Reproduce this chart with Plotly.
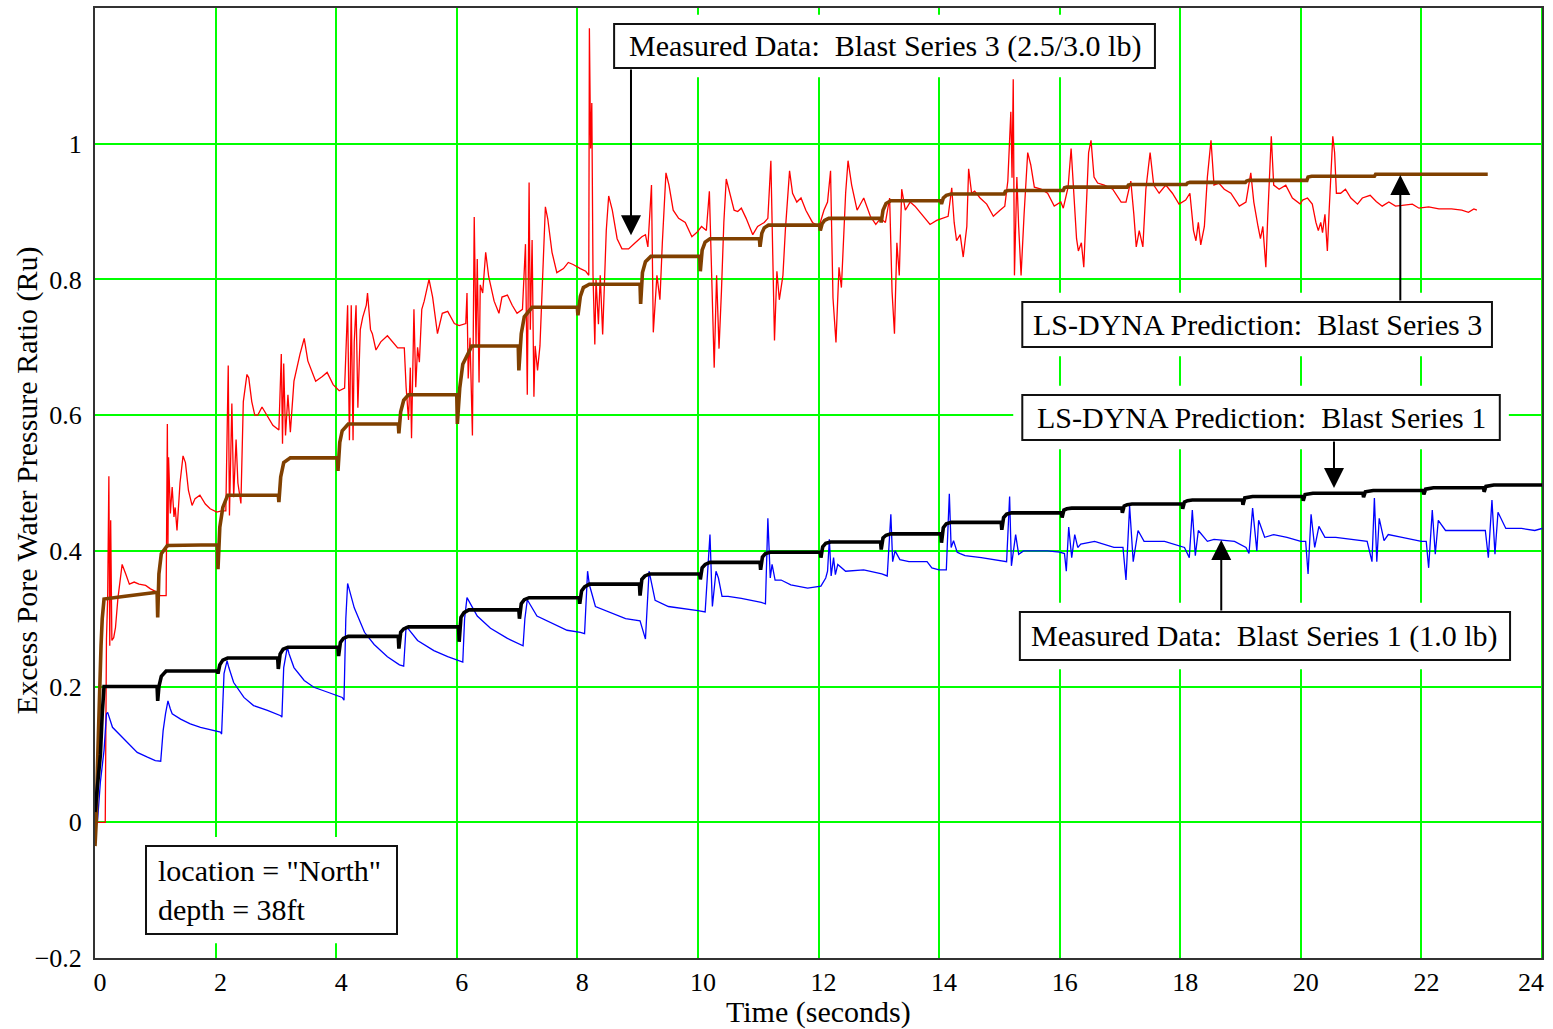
import plotly.graph_objects as go

FONT = "Liberation Serif, Times New Roman, serif"

# ---- time histories: (time s, excess pore water pressure ratio Ru) ----
measured_bs3 = [
    (0.00, 0.000), (0.17, 0.000), (0.19, 0.270), (0.21, 0.330), (0.23, 0.510), (0.245, 0.260),
    (0.26, 0.445), (0.28, 0.268), (0.31, 0.272), (0.34, 0.287), (0.38, 0.330), (0.41, 0.350),
    (0.45, 0.380), (0.51, 0.366), (0.57, 0.351), (0.65, 0.354), (0.73, 0.351), (0.84, 0.349),
    (0.92, 0.344), (1.03, 0.339), (1.08, 0.334), (1.18, 0.334),
    (1.20, 0.587), (1.21, 0.405), (1.22, 0.538), (1.25, 0.455), (1.28, 0.494), (1.31, 0.450),
    (1.33, 0.464), (1.36, 0.430), (1.41, 0.500), (1.46, 0.540), (1.50, 0.530), (1.55, 0.489),
    (1.61, 0.467), (1.66, 0.477), (1.74, 0.482), (1.83, 0.469), (1.91, 0.462), (2.02, 0.457),
    (2.10, 0.459), (2.17, 0.459),
    (2.21, 0.673), (2.23, 0.452), (2.27, 0.617), (2.30, 0.479), (2.34, 0.564), (2.37, 0.500),
    (2.42, 0.470), (2.46, 0.620), (2.52, 0.660), (2.55, 0.655), (2.60, 0.620), (2.65, 0.600),
    (2.70, 0.600), (2.77, 0.612), (2.85, 0.600), (2.95, 0.585), (3.05, 0.578),
    (3.09, 0.690), (3.11, 0.558), (3.13, 0.676), (3.16, 0.570), (3.20, 0.630), (3.24, 0.575),
    (3.30, 0.650), (3.40, 0.690), (3.47, 0.713), (3.53, 0.680), (3.60, 0.663), (3.66, 0.650),
    (3.77, 0.657), (3.85, 0.663), (3.95, 0.645), (4.05, 0.636), (4.14, 0.640),
    (4.19, 0.762), (4.22, 0.563), (4.25, 0.762), (4.28, 0.563), (4.30, 0.708), (4.33, 0.762),
    (4.36, 0.611), (4.40, 0.726), (4.44, 0.744), (4.50, 0.762), (4.52, 0.780), (4.57, 0.726),
    (4.60, 0.720), (4.66, 0.696), (4.74, 0.708), (4.85, 0.717), (4.94, 0.708), (5.02, 0.699),
    (5.13, 0.699),
    (5.16, 0.641), (5.20, 0.593), (5.23, 0.670), (5.25, 0.566), (5.29, 0.756), (5.32, 0.641),
    (5.35, 0.700), (5.38, 0.678), (5.42, 0.756), (5.46, 0.768), (5.54, 0.800), (5.60, 0.774),
    (5.68, 0.720), (5.76, 0.750), (5.85, 0.753), (5.96, 0.735), (6.04, 0.732),
    (6.15, 0.735), (6.17, 0.780), (6.19, 0.654), (6.22, 0.714), (6.26, 0.570), (6.29, 0.892),
    (6.32, 0.702), (6.34, 0.830), (6.37, 0.648), (6.39, 0.792), (6.43, 0.780), (6.48, 0.840),
    (6.53, 0.804), (6.62, 0.768), (6.70, 0.750), (6.75, 0.774), (6.84, 0.777), (6.92, 0.762),
    (7.00, 0.750),
    (7.09, 0.756), (7.14, 0.852), (7.17, 0.630), (7.20, 0.943), (7.22, 0.726), (7.25, 0.858),
    (7.28, 0.627), (7.30, 0.702), (7.34, 0.666), (7.38, 0.702), (7.42, 0.786), (7.47, 0.907),
    (7.51, 0.889), (7.58, 0.840), (7.66, 0.810), (7.77, 0.816), (7.85, 0.825), (7.93, 0.822),
    (8.05, 0.816),
    (8.14, 0.812), (8.19, 0.806), (8.20, 1.170), (8.22, 0.993), (8.24, 1.060), (8.26, 0.806),
    (8.29, 0.704), (8.31, 0.800), (8.35, 0.734), (8.38, 0.806), (8.42, 0.719), (8.48, 0.872),
    (8.52, 0.923), (8.58, 0.902), (8.66, 0.860), (8.74, 0.845), (8.85, 0.845), (8.96, 0.854),
    (9.07, 0.863), (9.13, 0.866),
    (9.17, 0.848), (9.23, 0.939), (9.26, 0.722), (9.32, 0.806), (9.37, 0.770), (9.41, 0.854),
    (9.47, 0.957), (9.52, 0.939), (9.59, 0.902), (9.68, 0.890), (9.79, 0.884), (9.90, 0.863),
    (9.98, 0.869), (10.06, 0.878),
    (10.14, 0.872), (10.19, 0.930), (10.23, 0.806), (10.27, 0.670), (10.31, 0.806), (10.35, 0.698),
    (10.39, 0.782), (10.43, 0.884), (10.47, 0.948), (10.53, 0.927), (10.60, 0.902), (10.66, 0.900),
    (10.72, 0.905), (10.80, 0.890), (10.91, 0.866), (10.99, 0.878), (11.10, 0.884),
    (11.16, 0.890), (11.21, 0.975), (11.27, 0.710), (11.31, 0.812), (11.35, 0.770), (11.41, 0.806),
    (11.45, 0.872), (11.52, 0.960), (11.57, 0.927), (11.64, 0.914), (11.71, 0.920), (11.79, 0.902),
    (11.90, 0.884), (12.01, 0.878),
    (12.09, 0.902), (12.15, 0.914), (12.20, 0.960), (12.24, 0.773), (12.29, 0.707), (12.34, 0.818),
    (12.38, 0.788), (12.45, 0.927), (12.49, 0.975), (12.55, 0.939), (12.64, 0.902), (12.75, 0.920),
    (12.86, 0.893), (12.95, 0.881), (13.03, 0.890),
    (13.11, 0.884), (13.18, 0.920), (13.22, 0.782), (13.26, 0.720), (13.30, 0.854), (13.34, 0.806),
    (13.38, 0.933), (13.44, 0.902), (13.52, 0.914), (13.60, 0.908), (13.71, 0.896), (13.85, 0.881),
    (13.96, 0.887),
    (14.07, 0.890), (14.15, 0.893), (14.21, 0.935), (14.25, 0.884), (14.29, 0.857), (14.35, 0.866),
    (14.40, 0.833), (14.46, 0.878), (14.49, 0.963), (14.54, 0.927), (14.59, 0.930), (14.68, 0.920),
    (14.79, 0.911), (14.90, 0.893), (15.01, 0.902), (15.09, 0.908),
    (15.14, 0.945), (15.19, 1.047), (15.21, 0.950), (15.23, 1.095), (15.25, 0.806), (15.29, 0.951),
    (15.32, 0.878), (15.36, 0.806), (15.41, 0.896), (15.47, 0.987), (15.52, 0.969), (15.58, 0.936),
    (15.69, 0.933), (15.80, 0.927), (15.91, 0.908), (16.02, 0.914),
    (16.06, 0.905), (16.14, 0.936), (16.19, 0.993), (16.24, 0.908), (16.28, 0.860), (16.31, 0.842),
    (16.36, 0.854), (16.40, 0.818), (16.44, 0.896), (16.48, 0.987), (16.52, 1.005), (16.57, 0.951),
    (16.63, 0.942), (16.74, 0.939), (16.88, 0.933), (17.02, 0.914),
    (17.10, 0.914), (17.18, 0.945), (17.23, 0.896), (17.27, 0.848), (17.32, 0.872), (17.38, 0.848),
    (17.43, 0.933), (17.50, 0.987), (17.56, 0.939), (17.65, 0.927), (17.76, 0.939), (17.87, 0.927),
    (17.98, 0.911),
    (18.09, 0.917), (18.16, 0.927), (18.22, 0.872), (18.26, 0.857), (18.30, 0.884), (18.34, 0.851),
    (18.40, 0.878), (18.45, 0.951), (18.51, 1.005), (18.56, 0.939), (18.64, 0.942), (18.73, 0.933),
    (18.84, 0.927), (18.98, 0.908),
    (19.09, 0.914), (19.17, 0.957), (19.22, 0.914), (19.29, 0.878), (19.33, 0.860), (19.37, 0.878),
    (19.42, 0.818), (19.45, 0.890), (19.51, 1.011), (19.55, 0.939), (19.64, 0.933), (19.75, 0.939),
    (19.86, 0.920), (19.99, 0.911),
    (20.03, 0.917), (20.11, 0.920), (20.19, 0.911), (20.25, 0.884), (20.29, 0.872), (20.33, 0.884),
    (20.36, 0.869), (20.40, 0.896), (20.44, 0.842), (20.47, 0.902), (20.51, 0.987), (20.53, 1.011),
    (20.56, 0.987), (20.59, 0.927), (20.66, 0.927), (20.74, 0.933), (20.83, 0.920), (20.94, 0.911),
    (21.02, 0.920), (21.15, 0.924), (21.25, 0.915), (21.35, 0.908), (21.46, 0.914), (21.57, 0.908),
    (21.68, 0.909), (21.85, 0.911), (21.96, 0.905), (22.12, 0.907), (22.29, 0.904), (22.50, 0.904),
    (22.67, 0.902), (22.78, 0.899), (22.87, 0.904), (22.92, 0.902),
]

measured_bs1 = [
    (0.00, 0.000), (0.04, 0.000), (0.09, 0.060), (0.12, 0.086), (0.15, 0.106), (0.19, 0.160),
    (0.21, 0.162), (0.29, 0.140), (0.37, 0.133), (0.48, 0.123), (0.59, 0.113), (0.70, 0.103),
    (0.87, 0.096), (1.00, 0.091), (1.09, 0.090),
    (1.13, 0.135), (1.17, 0.160), (1.21, 0.179), (1.25, 0.167), (1.28, 0.160), (1.42, 0.152),
    (1.58, 0.145), (1.75, 0.140), (1.97, 0.135), (2.08, 0.133), (2.10, 0.130),
    (2.14, 0.219), (2.19, 0.238), (2.22, 0.228), (2.30, 0.206), (2.47, 0.184), (2.63, 0.172),
    (2.86, 0.165), (3.08, 0.157), (3.10, 0.155),
    (3.13, 0.228), (3.19, 0.258), (3.22, 0.248), (3.30, 0.228), (3.47, 0.209), (3.63, 0.199),
    (3.85, 0.192), (4.10, 0.184), (4.13, 0.180),
    (4.16, 0.300), (4.19, 0.352), (4.30, 0.316), (4.47, 0.280), (4.63, 0.262), (4.85, 0.244),
    (5.05, 0.232), (5.12, 0.230),
    (5.14, 0.260), (5.16, 0.289), (5.35, 0.268), (5.62, 0.253), (5.85, 0.244), (6.04, 0.238),
    (6.10, 0.236),
    (6.13, 0.300), (6.17, 0.331), (6.34, 0.304), (6.56, 0.286), (6.84, 0.271), (7.06, 0.262),
    (7.10, 0.260),
    (7.13, 0.300), (7.17, 0.328), (7.33, 0.304), (7.60, 0.292), (7.83, 0.283), (8.05, 0.280),
    (8.12, 0.278),
    (8.17, 0.370), (8.20, 0.350), (8.30, 0.318), (8.52, 0.310), (8.80, 0.300), (9.04, 0.297),
    (9.13, 0.270),
    (9.19, 0.370), (9.29, 0.327), (9.51, 0.318), (9.79, 0.315), (10.00, 0.312), (10.12, 0.310),
    (10.15, 0.350), (10.20, 0.424), (10.24, 0.318), (10.30, 0.370), (10.34, 0.360), (10.40, 0.333),
    (10.50, 0.333), (10.72, 0.330), (11.05, 0.324), (11.12, 0.322),
    (11.16, 0.448), (11.20, 0.360), (11.23, 0.380), (11.28, 0.357), (11.38, 0.357), (11.54, 0.350),
    (11.82, 0.345), (12.04, 0.348), (12.12, 0.360),
    (12.15, 0.370), (12.18, 0.417), (12.21, 0.363), (12.25, 0.390), (12.28, 0.365), (12.32, 0.380),
    (12.45, 0.370), (12.75, 0.372), (13.05, 0.366), (13.14, 0.363),
    (13.20, 0.454), (13.23, 0.384), (13.27, 0.400), (13.35, 0.387), (13.50, 0.384), (13.80, 0.384),
    (13.88, 0.375), (14.00, 0.372), (14.12, 0.372),
    (14.17, 0.484), (14.20, 0.405), (14.24, 0.415), (14.30, 0.398), (14.35, 0.396), (14.43, 0.393),
    (14.70, 0.390), (15.09, 0.384), (15.12, 0.384),
    (15.17, 0.480), (15.20, 0.378), (15.27, 0.424), (15.32, 0.395), (15.40, 0.400), (15.53, 0.400),
    (15.80, 0.400), (16.00, 0.398), (16.08, 0.396),
    (16.11, 0.370), (16.15, 0.435), (16.20, 0.390), (16.25, 0.424), (16.30, 0.405), (16.35, 0.410),
    (16.58, 0.414), (16.90, 0.405), (17.05, 0.405),
    (17.10, 0.357), (17.16, 0.466), (17.22, 0.384), (17.30, 0.430), (17.40, 0.414), (17.74, 0.414),
    (18.07, 0.405),
    (18.15, 0.390), (18.20, 0.460), (18.25, 0.393), (18.30, 0.430), (18.45, 0.414), (18.56, 0.417),
    (18.90, 0.414), (19.09, 0.405),
    (19.14, 0.396), (19.20, 0.463), (19.27, 0.400), (19.30, 0.445), (19.40, 0.420), (19.55, 0.424),
    (19.77, 0.420), (20.00, 0.414), (20.08, 0.414),
    (20.12, 0.366), (20.17, 0.454), (20.23, 0.405), (20.30, 0.436), (20.40, 0.420), (20.58, 0.420),
    (20.85, 0.417), (21.10, 0.414),
    (21.18, 0.384), (21.22, 0.478), (21.26, 0.384), (21.30, 0.448), (21.38, 0.415), (21.45, 0.424),
    (21.68, 0.420), (22.00, 0.414), (22.08, 0.414),
    (22.12, 0.375), (22.18, 0.460), (22.23, 0.395), (22.28, 0.445), (22.40, 0.430), (22.67, 0.430),
    (23.06, 0.430),
    (23.11, 0.390), (23.17, 0.475), (23.22, 0.395), (23.27, 0.457), (23.40, 0.433), (23.66, 0.433),
    (23.88, 0.430), (24.00, 0.433),
]

lsdyna_bs3 = [
    (0.00, -0.035), (0.02, 0.000), (0.04, 0.080), (0.06, 0.150), (0.08, 0.210), (0.10, 0.260),
    (0.12, 0.300), (0.15, 0.329), (0.50, 0.333),
    (1.03, 0.339), (1.04, 0.302), (1.06, 0.366), (1.10, 0.396), (1.20, 0.408),
    (2.03, 0.409), (2.04, 0.373), (2.07, 0.435), (2.12, 0.464), (2.20, 0.482),
    (3.04, 0.482), (3.05, 0.472), (3.08, 0.509), (3.13, 0.530), (3.24, 0.537),
    (4.02, 0.537), (4.03, 0.518), (4.06, 0.560), (4.10, 0.577), (4.20, 0.587),
    (5.03, 0.587), (5.04, 0.573), (5.07, 0.605), (5.12, 0.622), (5.20, 0.630),
    (6.00, 0.630), (6.01, 0.587), (6.05, 0.640), (6.10, 0.675), (6.25, 0.702),
    (7.02, 0.702), (7.03, 0.666), (7.07, 0.720), (7.12, 0.745), (7.25, 0.759),
    (8.00, 0.759), (8.01, 0.747), (8.05, 0.775), (8.10, 0.788), (8.20, 0.793),
    (9.04, 0.793), (9.05, 0.764), (9.08, 0.810), (9.13, 0.826), (9.22, 0.834),
    (10.03, 0.834), (10.04, 0.812), (10.07, 0.843), (10.12, 0.855), (10.20, 0.860),
    (11.02, 0.860), (11.03, 0.848), (11.06, 0.868), (11.10, 0.876), (11.17, 0.880),
    (12.02, 0.880), (12.03, 0.872), (12.06, 0.882), (12.10, 0.887), (12.17, 0.890),
    (13.03, 0.890), (13.04, 0.884), (13.07, 0.902), (13.12, 0.912), (13.20, 0.916),
    (14.03, 0.916), (14.04, 0.911), (14.07, 0.920), (14.12, 0.924), (14.20, 0.926),
    (15.08, 0.926), (15.10, 0.930), (15.15, 0.931),
    (16.06, 0.931), (16.08, 0.935), (16.12, 0.936),
    (17.12, 0.936), (17.14, 0.939), (17.18, 0.940),
    (18.10, 0.940), (18.12, 0.942), (18.16, 0.943),
    (19.08, 0.943), (19.10, 0.945), (19.14, 0.946),
    (20.10, 0.946), (20.12, 0.951), (20.18, 0.952),
    (21.22, 0.952), (21.24, 0.955), (21.30, 0.955),
    (23.10, 0.955),
]

lsdyna_bs1 = [
    (0.00, 0.015), (0.05, 0.060), (0.09, 0.100), (0.12, 0.160), (0.15, 0.200),
    (1.03, 0.200), (1.04, 0.179), (1.06, 0.200), (1.10, 0.215), (1.18, 0.223),
    (2.03, 0.223), (2.04, 0.219), (2.07, 0.232), (2.12, 0.239), (2.20, 0.242),
    (3.03, 0.242), (3.04, 0.226), (3.07, 0.248), (3.12, 0.255), (3.20, 0.258),
    (4.03, 0.258), (4.04, 0.245), (4.07, 0.265), (4.12, 0.271), (4.20, 0.274),
    (5.03, 0.274), (5.04, 0.256), (5.07, 0.280), (5.12, 0.285), (5.20, 0.288),
    (6.03, 0.288), (6.04, 0.266), (6.07, 0.302), (6.12, 0.309), (6.20, 0.313),
    (7.03, 0.313), (7.04, 0.300), (7.07, 0.322), (7.12, 0.328), (7.20, 0.331),
    (8.03, 0.331), (8.04, 0.322), (8.07, 0.341), (8.12, 0.347), (8.20, 0.351),
    (9.03, 0.351), (9.04, 0.334), (9.07, 0.358), (9.12, 0.363), (9.20, 0.366),
    (10.03, 0.366), (10.04, 0.358), (10.07, 0.375), (10.12, 0.380), (10.20, 0.383),
    (11.03, 0.383), (11.04, 0.372), (11.07, 0.391), (11.12, 0.396), (11.20, 0.398),
    (12.03, 0.398), (12.04, 0.390), (12.07, 0.406), (12.12, 0.411), (12.20, 0.413),
    (13.03, 0.413), (13.04, 0.402), (13.07, 0.419), (13.12, 0.423), (13.20, 0.425),
    (14.03, 0.425), (14.04, 0.412), (14.07, 0.434), (14.12, 0.440), (14.20, 0.442),
    (15.03, 0.442), (15.04, 0.431), (15.07, 0.449), (15.12, 0.454), (15.20, 0.456),
    (16.03, 0.456), (16.04, 0.449), (16.07, 0.460), (16.12, 0.462), (16.20, 0.463),
    (17.03, 0.463), (17.04, 0.456), (17.07, 0.466), (17.12, 0.468), (17.20, 0.469),
    (18.03, 0.469), (18.04, 0.462), (18.07, 0.472), (18.12, 0.474), (18.20, 0.475),
    (19.03, 0.475), (19.04, 0.468), (19.07, 0.478), (19.12, 0.479), (19.20, 0.480),
    (20.03, 0.480), (20.04, 0.474), (20.07, 0.483), (20.12, 0.484), (20.20, 0.485),
    (21.03, 0.485), (21.04, 0.479), (21.07, 0.487), (21.12, 0.488), (21.20, 0.489),
    (22.03, 0.489), (22.04, 0.483), (22.07, 0.491), (22.12, 0.492), (22.20, 0.493),
    (23.03, 0.493), (23.04, 0.487), (23.07, 0.495), (23.12, 0.496), (23.20, 0.497),
    (24.00, 0.497),
]

x_ticks = list(range(0, 25, 2))
y_ticks = [-0.2, 0.0, 0.2, 0.4, 0.6, 0.8, 1.0]
y_tick_labels = ["\u22120.2", "0", "0.2", "0.4", "0.6", "0.8", "1"]

# series drawn in order: measured records first, model predictions on top
series = [
    ("Measured Data: Blast Series 3 (2.5/3.0 lb)", measured_bs3, "#FF0000", 1.3),
    ("Measured Data: Blast Series 1 (1.0 lb)", measured_bs1, "#0000FF", 1.3),
    ("LS-DYNA Prediction: Blast Series 3", lsdyna_bs3, "#804000", 3.6),
    ("LS-DYNA Prediction: Blast Series 1", lsdyna_bs1, "#000000", 3.6),
]

# label boxes in axis units: text, x0, x1, y_bottom, y_top
label_boxes = [
    ("Measured Data:&nbsp; Blast Series 3 (2.5/3.0 lb)", 8.61, 17.58, 1.1115, 1.1764),
    ("LS-DYNA Prediction:&nbsp; Blast Series 3", 15.38, 23.17, 0.7004, 0.7667),
    ("LS-DYNA Prediction:&nbsp; Blast Series 1", 15.38, 23.30, 0.5634, 0.6297),
    ("Measured Data:&nbsp; Blast Series 1 (1.0 lb)", 15.34, 23.47, 0.2392, 0.3099),
]
info_box = ("location = \"North\"<br>depth = 38ft", 0.846, 5.009, -0.1646, -0.035)

# pointer arrows: (tail x, tail y) -> (tip x, tip y)
pointers = [
    ((8.89, 1.1115), (8.89, 0.865)),
    ((21.65, 0.7667), (21.65, 0.954)),
    ((20.55, 0.5634), (20.55, 0.4926)),
    ((18.68, 0.3099), (18.68, 0.416)),
]

fig = go.Figure()
for name, pts, color, width in series:
    t, ru = zip(*pts)
    fig.add_trace(go.Scatter(x=t, y=ru, mode="lines", name=name,
                             line=dict(color=color, width=width)))

pad_x, pad_y = 0.15, 0.0135
for text, x0, x1, yb, yt in label_boxes + [info_box]:
    # white clearance around each label, hiding the grid but not the curves
    fig.add_shape(type="rect", x0=x0 - pad_x, x1=x1 + pad_x, y0=yb - pad_y, y1=yt + pad_y,
                  fillcolor="white", line=dict(width=0), layer="between")
    fig.add_shape(type="rect", x0=x0, x1=x1, y0=yb, y1=yt, fillcolor="white",
                  line=dict(color="#111111", width=2), layer="above")

for text, x0, x1, yb, yt in label_boxes:
    fig.add_annotation(x=(x0 + x1) / 2, y=(yb + yt) / 2, text=text, showarrow=False,
                       xanchor="center", yanchor="middle",
                       font=dict(family=FONT, size=30, color="black"))

text, x0, x1, yb, yt = info_box
fig.add_annotation(x=x0 + 0.17, y=(yb + yt) / 2, text=text, showarrow=False, align="left",
                   xanchor="left", yanchor="middle",
                   font=dict(family=FONT, size=30, color="black"))

for (tx, ty), (hx, hy) in pointers:
    fig.add_annotation(x=hx, y=hy, ax=tx, ay=ty, xref="x", yref="y", axref="x", ayref="y",
                       text="", showarrow=True, arrowhead=2, arrowsize=2, arrowwidth=2,
                       arrowcolor="black")

# axis titles
fig.add_annotation(xref="paper", yref="paper", x=0.4997, y=-0.0568, text="Time (seconds)",
                   showarrow=False, xanchor="center", yanchor="middle",
                   font=dict(family=FONT, size=30, color="black"))
fig.add_annotation(xref="paper", yref="paper", x=-0.047, y=0.503,
                   text="Excess Pore Water Pressure Ratio (Ru)", textangle=-90,
                   showarrow=False, xanchor="center", yanchor="middle",
                   font=dict(family=FONT, size=30, color="black"))

# the last time label is right-aligned to the frame so it stays on the page
fig.add_annotation(xref="x", yref="paper", x=x_ticks[-1], y=-0.0253, text=str(x_ticks[-1]),
                   showarrow=False, xanchor="right", yanchor="middle", xshift=4,
                   font=dict(family=FONT, size=26, color="black"))

axis_common = dict(showgrid=True, gridcolor="#00FF00", gridwidth=2, zeroline=False,
                   showline=True, linecolor="#333333", linewidth=2, mirror=True, ticks="",
                   tickfont=dict(family=FONT, size=26, color="black"))

fig.update_xaxes(range=[0, 24], tickvals=x_ticks[:-1], ticklabelshift=5, **axis_common)
fig.update_yaxes(range=[-0.2, 1.2], tickvals=y_ticks, ticktext=y_tick_labels,
                 ticklabelstandoff=6, **axis_common)

# keep the grid line at the right edge of the time axis
fig.add_shape(type="line", xref="x", yref="paper", x0=x_ticks[-1], x1=x_ticks[-1], y0=0, y1=1,
              line=dict(color="#00FF00", width=2), layer="below")

fig.update_layout(
    width=1553, height=1029,
    margin=dict(l=95, r=11, t=8, b=71, autoexpand=False),
    plot_bgcolor="white", paper_bgcolor="white",
    showlegend=False,
    font=dict(family=FONT, color="black"),
)

fig.write_html("out.html")
